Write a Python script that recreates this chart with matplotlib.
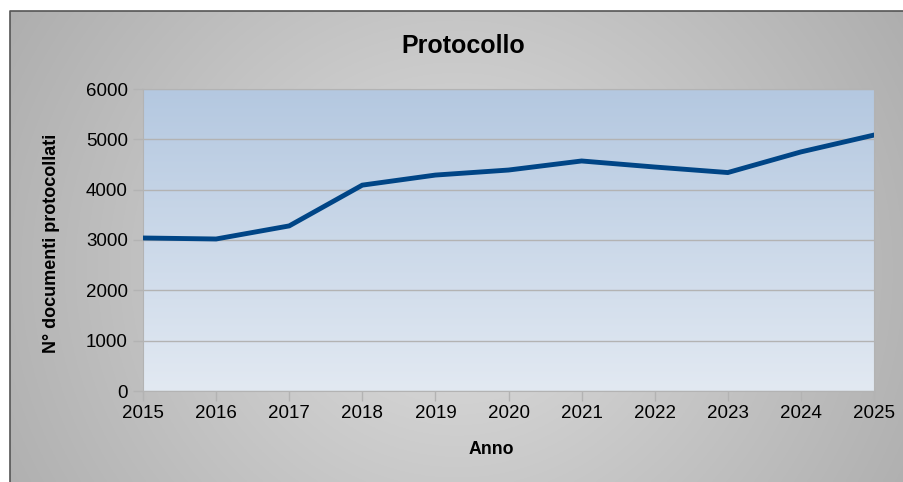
import numpy as np
import matplotlib.pyplot as plt
from matplotlib.colors import LinearSegmentedColormap

plt.rcParams['font.family'] = ['Liberation Sans', 'DejaVu Sans']

anni = [2015, 2016, 2017, 2018, 2019, 2020, 2021, 2022, 2023, 2024, 2025]
documenti = [3040, 3020, 3280, 4090, 4290, 4390, 4570, 4450, 4340, 4750, 5085]
y_ticks = [0, 1000, 2000, 3000, 4000, 5000, 6000]

W, H = 904, 482
fig = plt.figure(figsize=(W / 100, H / 100), dpi=100, facecolor='white')

# sfondo del grafico con gradiente radiale
bg = fig.add_axes([10 / W, 0, (W - 10) / W, (H - 11) / H])
bg.set_axis_off()
yy, xx = np.mgrid[0:1:300j, 0:1:600j]
r = np.sqrt(((xx - 0.5) * 1.0) ** 2 + ((yy - 0.45) * 0.55) ** 2)
g = 0.87 - 0.32 * r
bg.imshow(np.dstack([g, g, g]), aspect='auto', extent=[0, 1, 0, 1], origin='lower')
bg.plot([0, 0, 1], [0, 1, 1], color='#555555', lw=1.2, transform=bg.transAxes, clip_on=False)
bg.set_xlim(0, 1)
bg.set_ylim(0, 1)

ax = fig.add_axes([143 / W, 1 - 391 / H, (874 - 143) / W, (391 - 89) / H])
cmap = LinearSegmentedColormap.from_list('area', ['#e2e9f2', '#b4c8e0'])
ax.imshow(np.linspace(0, 1, 256).reshape(-1, 1), cmap=cmap, aspect='auto',
          extent=[anni[0], anni[-1], 0, 6000], origin='lower', zorder=0)

ax.plot(anni, documenti, color='#004586', lw=3.5, solid_joinstyle='miter', zorder=3)

ax.set_xlim(anni[0], anni[-1])
ax.set_ylim(0, 6000)
ax.set_xticks(anni)
ax.set_yticks(y_ticks)
ax.grid(axis='y', color='#b3b3b3', lw=1, zorder=1)
ax.set_axisbelow(False)
for s in ax.spines.values():
    s.set_color('#b3b3b3')
ax.tick_params(colors='#b3b3b3', labelcolor='black', labelsize=13.5, length=7, width=1)
ax.tick_params(axis='x', pad=3)
ax.tick_params(axis='y', pad=4)

fig.text(463 / W, 1 - 46 / H, 'Protocollo', ha='center', va='center', fontsize=18, fontweight='bold')
fig.text(491 / W, 1 - 450 / H, 'Anno', ha='center', va='center', fontsize=12.8, fontweight='bold')
fig.text(52 / W, 1 - 243 / H, 'N° documenti protocollati', ha='center', va='center',
         rotation=90, fontsize=13, fontweight='bold')

fig.savefig('out.png', dpi=100)
